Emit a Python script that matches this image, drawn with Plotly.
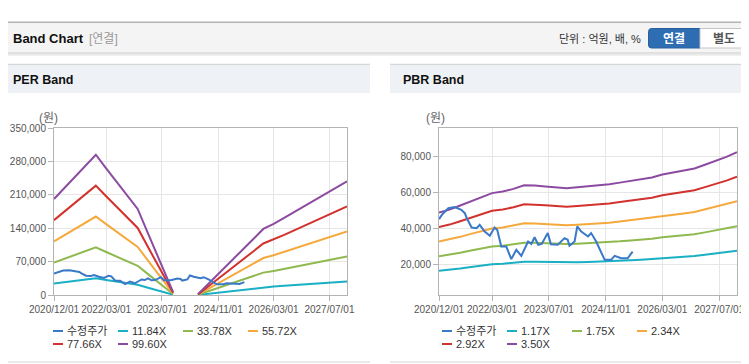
import plotly.graph_objects as go

# The page body has an 8px margin, so the figure is drawn 8px in from the window corner.
OFF = 8
W, H = 749 - OFF, 364 - OFF

# ---------------- data ----------------
x_tick_dates = ["2020-12-01", "2022-03-01", "2023-07-01", "2024-11-01", "2026-03-01", "2027-07-01"]
per_y_ticks = [0, 70000, 140000, 210000, 280000, 350000]
pbr_y_ticks = [20000, 40000, 60000, 80000]

per_names = ["수정주가", "11.84X", "33.78X", "55.72X", "77.66X", "99.60X"]
pbr_names = ["수정주가", "1.17X", "1.75X", "2.34X", "2.92X", "3.50X"]

# adjusted share price (shared by both charts)
price_dates = ["2020-12-01", "2021-01-01", "2021-02-19", "2021-04-15", "2021-06-10", "2021-07-10",
               "2021-08-01", "2021-09-07", "2021-10-19", "2021-11-15", "2021-12-28", "2022-02-10",
               "2022-03-22", "2022-04-15", "2022-05-19", "2022-07-01", "2022-08-13", "2022-09-25",
               "2022-11-07", "2023-01-04", "2023-02-01", "2023-03-01", "2023-04-01", "2023-05-01",
               "2023-06-22", "2023-07-19", "2023-09-16", "2023-11-13", "2023-12-10", "2023-12-25",
               "2024-02-07", "2024-03-01", "2024-04-04", "2024-06-01", "2024-06-28", "2024-08-10",
               "2024-10-22", "2024-12-16", "2025-01-16", "2025-03-13", "2025-05-07", "2025-06-19"]
price = [45100, 48000, 51200, 51800, 50300, 48400,
         45000, 40400, 40000, 41900, 38200, 35800,
         40400, 39000, 29800, 29800, 22800, 28000,
         24600, 32600, 31300, 35000, 30800, 31300,
         37300, 31100, 30800, 34500, 33600, 30200,
         32600, 41000, 38200, 35400, 37300, 32600,
         22400, 22400, 24600, 23300, 23300, 27000]

# PER band lines (None = gap where EPS is negative)
per_dates = ["2020-12-01", "2021-03-01", "2021-06-01", "2021-09-01", "2021-12-01", "2022-03-01",
             "2022-06-01", "2022-09-01", "2022-12-01", "2023-03-01", "2023-06-01", "2023-09-01",
             "2023-10-06", "2024-01-15", "2024-05-10", "2024-06-01", "2024-09-01", "2024-12-01",
             "2025-03-01", "2025-06-01", "2025-09-01", "2025-12-01", "2026-03-01", "2026-06-01",
             "2026-09-01", "2026-12-01", "2027-03-01", "2027-06-01", "2027-09-01", "2027-12-01"]
per_1184 = [23920, 26680, 29430, 32180, 34940, 31570, 28180, 24810, 21430, 15330, 9240, 3150,
            710, None, 180, 790, 3400, 6020, 8620, 11240, 13840, 16460, 17700, 19220,
            20730, 22250, 23760, 25280, 26790, 28310]
per_3378 = [68240, 76110, 83980, 91810, 99690, 90060, 80400, 70770, 61140, 43750, 26350, 8990,
            2030, None, 510, 2260, 9700, 17160, 24590, 32060, 39490, 46950, 50500, 54830,
            59150, 63470, 67800, 72120, 76440, 80770]
per_5572 = [112550, 125540, 138520, 151450, 164430, 148550, 132610, 116730, 100850, 72160, 43460, 14820,
            3340, None, 840, 3730, 15990, 28310, 40560, 52880, 65140, 77450, 83300, 90430,
            97570, 104700, 111830, 118960, 126090, 133230]
per_7766 = [156870, 174970, 193060, 211080, 229180, 207040, 184830, 162700, 140570, 100570, 60580, 20660,
            4660, None, 1170, 5200, 22290, 39450, 56540, 73700, 90790, 107950, 116100, 126040,
            135980, 145920, 155860, 165800, 175750, 185690]
per_9960 = [201190, 224400, 247610, 270710, 293920, 265530, 237050, 208660, 180280, 128980, 77690, 26490,
            5980, None, 1490, 6670, 28590, 50600, 72510, 94520, 116430, 138440, 148900, 161650,
            174400, 187150, 199900, 212650, 225400, 238140]

# PBR band lines
pbr_dates = ["2020-12-01", "2021-03-01", "2021-06-01", "2021-09-01", "2021-12-01", "2022-03-01",
             "2022-06-01", "2022-09-01", "2022-12-01", "2023-03-01", "2023-06-01", "2023-09-01",
             "2023-12-01", "2024-03-01", "2024-06-01", "2024-09-01", "2024-12-01", "2025-03-01",
             "2025-06-01", "2025-09-01", "2025-12-01", "2026-03-01", "2026-06-01", "2026-09-01",
             "2026-12-01", "2027-03-01", "2027-06-01", "2027-09-01", "2027-12-01"]
pbr_117 = [16310, 16850, 17610, 18430, 19250, 19930, 20240, 20710, 21390, 21350, 21180, 21000,
           20840, 21000, 21170, 21350, 21560, 21880, 22230, 22520, 22850, 23400, 23750, 24100,
           24510, 25210, 25920, 26680, 27540]
pbr_175 = [24400, 25200, 26340, 27560, 28790, 29800, 30280, 30980, 31990, 31940, 31680, 31410,
           31170, 31410, 31660, 31940, 32250, 32730, 33250, 33690, 34180, 35000, 35530, 36050,
           36660, 37710, 38760, 39900, 41200]
pbr_234 = [32620, 33700, 35220, 36860, 38490, 39850, 40480, 41420, 42780, 42710, 42350, 42000,
           41680, 42000, 42330, 42710, 43130, 43760, 44460, 45050, 45700, 46800, 47500, 48200,
           49020, 50430, 51830, 53350, 55080]
pbr_292 = [40700, 42050, 43950, 45990, 48030, 49730, 50520, 51680, 53380, 53290, 52850, 52410,
           52010, 52410, 52820, 53290, 53820, 54600, 55480, 56210, 57030, 58400, 59280, 60150,
           61170, 62930, 64680, 66580, 68740]
pbr_350 = [48790, 50400, 52680, 55130, 57580, 59610, 60550, 61950, 63980, 63880, 63350, 62830,
           62340, 62830, 63320, 63880, 64510, 65450, 66500, 67380, 68360, 70000, 71050, 72100,
           73330, 75430, 77530, 79800, 82390]

# ---------------- styling ----------------
price_color = "#3a78c8"
band_colors = ["#19afc4", "#8fb94f", "#f5a93c", "#d2322d", "#8c4ba0"]
item_colors = [price_color] + band_colors

TXT = "Liberation Sans, Noto Sans CJK KR, sans-serif"
TICK = "Liberation Sans, sans-serif"


def X(px):
    # window pixel -> paper fraction
    return (px - OFF) / W


def Y(py):
    return 1 - (py - OFF) / H


fig = go.Figure()

for vals, name, c in zip([per_1184, per_3378, per_5572, per_7766, per_9960], per_names[1:], band_colors):
    fig.add_trace(go.Scatter(x=per_dates, y=vals, name=name, mode="lines", connectgaps=False,
                             line=dict(color=c, width=2), xaxis="x", yaxis="y", showlegend=False))
fig.add_trace(go.Scatter(x=price_dates, y=price, name=per_names[0], mode="lines",
                         line=dict(color=price_color, width=2), xaxis="x", yaxis="y", showlegend=False))

for vals, name, c in zip([pbr_117, pbr_175, pbr_234, pbr_292, pbr_350], pbr_names[1:], band_colors):
    fig.add_trace(go.Scatter(x=pbr_dates, y=vals, name=name, mode="lines",
                             line=dict(color=c, width=2), xaxis="x2", yaxis="y2", showlegend=False))
fig.add_trace(go.Scatter(x=price_dates, y=price, name=pbr_names[0], mode="lines",
                         line=dict(color=price_color, width=2), xaxis="x2", yaxis="y2", showlegend=False))

axis_common = dict(showline=True, mirror=True, linecolor="#b4b4b4", linewidth=1,
                   showgrid=True, gridcolor="#e6e6e6", gridwidth=1, zeroline=False,
                   ticks="outside", ticklen=5, tickcolor="#b4b4b4", fixedrange=True,
                   automargin=False,
                   tickfont=dict(family=TICK, size=10, color="#555555"))

x_common = dict(type="date", range=["2020-12-01", "2027-12-01"], tickvals=x_tick_dates,
                tickformat="%Y/%m/%d", tickangle=0, **axis_common)

fig.update_layout(
    template="none",
    width=W, height=H, margin=dict(l=0, r=0, t=0, b=0, pad=0, autoexpand=False),
    paper_bgcolor="white", plot_bgcolor="white", showlegend=False,
    xaxis=dict(domain=[X(54), X(347)], anchor="y", **x_common),
    yaxis=dict(domain=[Y(295), Y(128)], anchor="x", range=[0, 350000], tickvals=per_y_ticks,
               tickformat=",", **axis_common),
    xaxis2=dict(domain=[X(439), X(737)], anchor="y2", **x_common),
    yaxis2=dict(domain=[Y(295), Y(128)], anchor="x2", range=[2800, 95900], tickvals=pbr_y_ticks,
                tickformat=",", **axis_common),
)

shapes = []
annotations = []


def rect(x0, y0, x1, y1, fill, line_color=None, lw=0):
    shapes.append(dict(type="rect", xref="paper", yref="paper", x0=X(x0), x1=X(x1), y0=Y(y1), y1=Y(y0),
                       fillcolor=fill, line=dict(width=lw, color=line_color or fill), layer="below"))


def hline(x0, x1, y, color, width=1):
    shapes.append(dict(type="line", xref="paper", yref="paper", x0=X(x0), x1=X(x1), y0=Y(y), y1=Y(y),
                       line=dict(color=color, width=width), layer="below"))


def text(x, y, s, size=11, color="#333333", family=TXT, xanchor="left", bold=False):
    if bold:
        s = "<b>" + s + "</b>"
    annotations.append(dict(x=X(x), y=Y(y), xref="paper", yref="paper", text=s, showarrow=False,
                            xanchor=xanchor, yanchor="middle", font=dict(size=size, color=color, family=family)))


# page header bar
hline(0, 760, 22.3, "#b4b4b4", 1.5)
rect(0, 23, 760, 52.5, "#f4f4f4")
hline(0, 760, 53, "#c6c6c6", 1)
hline(0, 760, 54.2, "#dedede", 1)
hline(0, 760, 55.3, "#eeeeee", 1)
text(11, 38.5, "Band Chart", size=13, color="#111111", bold=True)
text(87, 38.5, "[연결]", size=12, color="#9a9a9a")
text(643, 38.5, "단위 : 억원, 배, %", size=11, color="#333333", xanchor="right")

# buttons
r = 3.0
bx0, by0, bx1, by1 = 648.5, 28.5, 700, 48
path = (f"M{X(bx0 + r)},{Y(by0)} L{X(bx1)},{Y(by0)} L{X(bx1)},{Y(by1)} L{X(bx0 + r)},{Y(by1)} "
        f"Q{X(bx0)},{Y(by1)} {X(bx0)},{Y(by1 - r)} L{X(bx0)},{Y(by0 + r)} Q{X(bx0)},{Y(by0)} {X(bx0 + r)},{Y(by0)} Z")
shapes.append(dict(type="path", xref="paper", yref="paper", path=path, fillcolor="#2f6db3",
                   line=dict(color="#2a5f9e", width=1), layer="below"))
rect(700, 28.5, 760, 48, "#ffffff", "#c4c4c4", 1)
text(674, 38.5, "연결", size=12, color="#ffffff", xanchor="center", bold=True)
text(724, 38.5, "별도", size=12, color="#555555", xanchor="center", bold=True)

# panel headers
for (px0, px1, title, tx) in [(0, 370, "PER Band", 11), (390, 760, "PBR Band", 401)]:
    hline(px0, px1, 64.3, "#d6d6d6", 1.2)
    rect(px0, 65, px1, 93, "#eef1f6")
    hline(px0, px1, 362, "#d6d6d6", 1.2)
    text(tx, 80, title, size=12.5, color="#111111", bold=True)

# unit labels
text(48.5, 118, "(원)", size=12, color="#666666", xanchor="center")
text(435, 118, "(원)", size=12, color="#666666", xanchor="center")

# legends
rows = [331, 344]
for cols, names in [([53, 118, 183, 248], per_names), ([442, 507, 572, 637], pbr_names)]:
    for i, (nm, c) in enumerate(zip(names, item_colors)):
        cx = cols[i % 4]
        cy = rows[i // 4]
        shapes.append(dict(type="line", xref="paper", yref="paper", x0=X(cx), x1=X(cx + 10),
                           y0=Y(cy), y1=Y(cy), line=dict(color=c, width=2)))
        text(cx + 12, cy, nm, size=11, color="#333333")

fig.update_layout(shapes=shapes, annotations=annotations)
fig.write_html("out.html")
